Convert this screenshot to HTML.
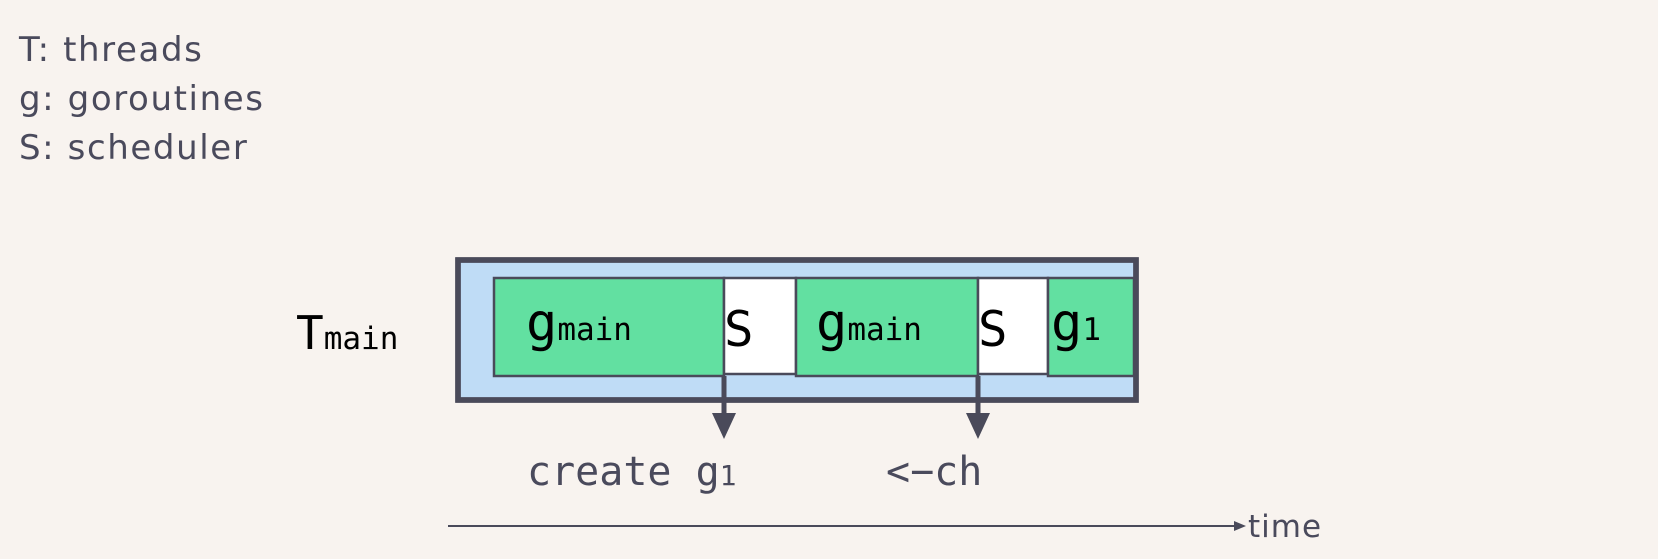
<!DOCTYPE html>
<html><head><meta charset="utf-8"><style>
html,body{margin:0;padding:0;background:#f8f3ef;}
body{width:1658px;height:559px;position:relative;overflow:hidden;}
.legend{position:absolute;left:19px;font-family:"DejaVu Sans",sans-serif;font-size:34px;letter-spacing:1.6px;color:#4a4a5c;font-weight:normal;}
</style></head><body>
<div class="legend" style="top:30px">T: threads</div>
<div class="legend" style="top:79px">g: goroutines</div>
<div class="legend" style="top:128px">S: scheduler</div>
<svg width="1658" height="559" style="position:absolute;left:0;top:0">
<g font-family="DejaVu Sans Mono, monospace">
<text x="296" y="349" font-size="46" fill="#000">T<tspan font-size="31">main</tspan></text>
<rect x="458" y="260" width="678" height="140" fill="#bfdcf6" stroke="#4a4a5a" stroke-width="5.5"/>
<rect x="494" y="278" width="230" height="98" fill="#62e0a1" stroke="#4a4a5a" stroke-width="2.5"/>
<rect x="724" y="278" width="72" height="96" fill="#fff" stroke="#4a4a5a" stroke-width="2.5"/>
<rect x="796" y="278" width="182" height="98" fill="#62e0a1" stroke="#4a4a5a" stroke-width="2.5"/>
<rect x="978" y="278" width="70" height="96" fill="#fff" stroke="#4a4a5a" stroke-width="2.5"/>
<rect x="1048" y="278" width="86" height="98" fill="#62e0a1" stroke="#4a4a5a" stroke-width="2.5"/>
<rect x="458" y="260" width="678" height="140" fill="none" stroke="#4a4a5a" stroke-width="5.5"/>
<text x="526" y="340" font-size="52" fill="#000">g<tspan font-size="31">main</tspan></text>
<text x="724" y="346" font-size="49" fill="#000">S</text>
<text x="816" y="340" font-size="52" fill="#000">g<tspan font-size="31">main</tspan></text>
<text x="978" y="346" font-size="49" fill="#000">S</text>
<text x="1051" y="340" font-size="52" fill="#000">g<tspan font-size="31">1</tspan></text>
<g>
<line x1="724" y1="376" x2="724" y2="416" stroke="#4a4a5a" stroke-width="5"/>
<polygon points="712,413 736,413 724,439" fill="#4a4a5a"/></g>
<g>
<line x1="978" y1="376" x2="978" y2="416" stroke="#4a4a5a" stroke-width="5"/>
<polygon points="966,413 990,413 978,439" fill="#4a4a5a"/></g>
<text x="527" y="485" font-size="40" fill="#4a4a5c">create g<tspan font-size="28">1</tspan></text>
<text x="886" y="485" font-size="40" fill="#4a4a5c">&lt;−ch</text>
</g>
<g>
<line x1="448" y1="526" x2="1236" y2="526" stroke="#4a4a5a" stroke-width="2"/>
<polygon points="1234,521 1246,526 1234,531" fill="#4a4a5a"/>
<text x="1248" y="537" font-family="DejaVu Sans, sans-serif" font-size="31" letter-spacing="1" fill="#4a4a5c">time</text>
</g>
</svg>
</body></html>
